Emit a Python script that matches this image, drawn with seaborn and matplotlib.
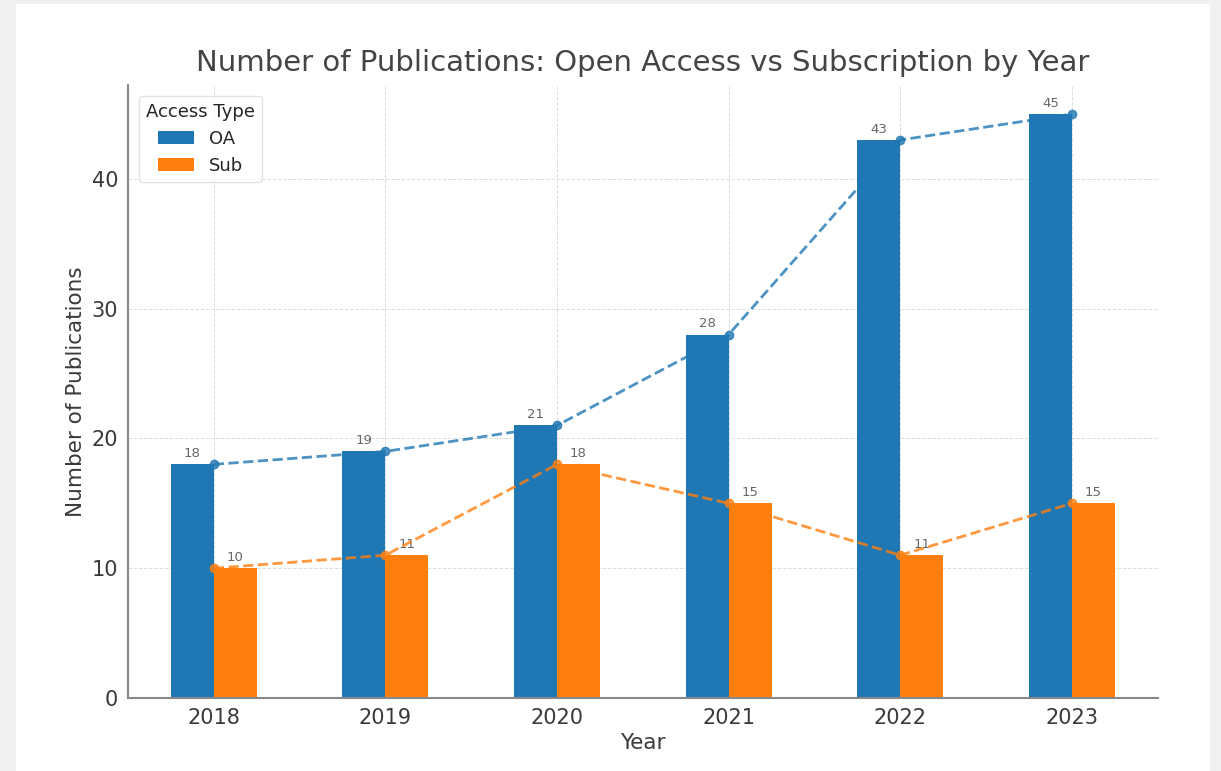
import numpy as np
import pandas as pd
import matplotlib
matplotlib.use("Agg")
import matplotlib.pyplot as plt
from matplotlib.patches import Rectangle
import seaborn as sns

# publication counts per year
years = ['2018', '2019', '2020', '2021', '2022', '2023']
oa_counts = [18, 19, 21, 28, 43, 45]
sub_counts = [10, 11, 18, 15, 11, 15]

df = pd.DataFrame({
    'Year': years * 2,
    'Count': oa_counts + sub_counts,
    'Access Type': ['OA'] * len(years) + ['Sub'] * len(years),
})

sns.set_style("white")
plt.rcParams['font.family'] = ['DejaVu Sans']
text_col = '#3a3a3a'

fig = plt.figure(figsize=(12.21, 7.71), dpi=100)
fig.patch.set_facecolor('#f0f0f0')
fig.add_artist(Rectangle((16 / 1221, 0), (1210 - 16) / 1221, (771 - 4) / 771,
                         transform=fig.transFigure, facecolor='white',
                         edgecolor='none', zorder=-10))
ax = fig.add_axes([0.1048, 0.0947, 0.8433, 0.7953])
ax.set_facecolor('white')

colors = {'OA': '#1f77b4', 'Sub': '#ff7f0e'}
sns.barplot(data=df, x='Year', y='Count', hue='Access Type', palette=colors,
            width=0.5, gap=0, saturation=1, linewidth=0, ax=ax, zorder=2)

for cont in ax.containers:
    ax.bar_label(cont, fmt='%d', fontsize=9.5, color='#666666', padding=3)

xpos = np.arange(len(years))
ax.plot(xpos, oa_counts, linestyle='--', marker='o', color='#1f77b4',
        alpha=0.8, linewidth=2, markersize=6, zorder=3)
ax.plot(xpos, sub_counts, linestyle='--', marker='o', color='#ff7f0e',
        alpha=0.8, linewidth=2, markersize=6, zorder=3)

ax.set_ylim(0, 47.25)
ax.set_xlim(-0.5, len(years) - 0.5)
ax.set_yticks([0, 10, 20, 30, 40])

ax.grid(True, linestyle='--', color='#d5d5d5', linewidth=0.7, alpha=0.8, zorder=0)
ax.set_axisbelow(True)

for s in ['top', 'right']:
    ax.spines[s].set_visible(False)
for s in ['left', 'bottom']:
    ax.spines[s].set_color('#888888')
    ax.spines[s].set_linewidth(1.5)

ax.tick_params(axis='both', labelsize=15, colors='#888888', labelcolor=text_col,
               length=4, width=1, pad=3)

ax.set_title('Number of Publications: Open Access vs Subscription by Year',
             fontsize=21, color='#444444', pad=10)
ax.set_xlabel('Year', fontsize=15.5, color=text_col, labelpad=4)
ax.set_ylabel('Number of Publications', fontsize=15.5, color=text_col)

leg = ax.legend(title='Access Type', loc='upper left', fontsize=13,
                title_fontsize=13, frameon=True, borderaxespad=0.6)
leg.get_frame().set_edgecolor('#dddddd')

fig.savefig('out.png', dpi=100, facecolor=fig.get_facecolor())
